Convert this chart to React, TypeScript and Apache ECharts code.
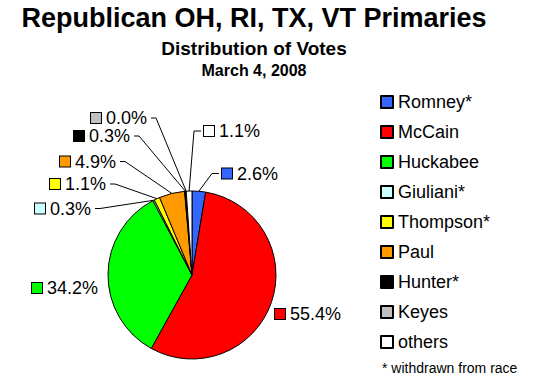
import React, { useEffect, useRef } from "react";
import * as echarts from "echarts";

const categories = ["Romney*", "McCain", "Huckabee", "Giuliani*", "Thompson*", "Paul", "Hunter*", "Keyes", "others"];
const shares = [2.6, 55.4, 34.2, 0.3, 1.1, 4.9, 0.3, 0.0, 1.1];
const colors = ["#3366FF", "#FF0000", "#00FF00", "#CCFFFF", "#FFFF00", "#FF9900", "#000000", "#C0C0C0", "#FFFFFF"];
const titleText = "Republican OH, RI, TX, VT Primaries";
const subtitleText = "Distribution of Votes";
const dateText = "March 4, 2008";
const footnoteText = "* withdrawn from race";

// label layout (positions only)
const labelX = [222, 275, 32, 35, 50, 60, 74, 91, 204];
const labelY = [173.5, 314, 288, 208.5, 184, 161.5, 136, 118, 131];
const withLine = [true, false, false, true, true, true, true, true, true];

const FONT = "'Liberation Sans', Arial, sans-serif";

export default function App() {
  const ref = useRef<HTMLDivElement>(null);
  useEffect(() => {
    document.body.style.margin = "0";
    const chart = echarts.init(ref.current!, null, { renderer: "svg" });
    const cx = 192;
    const data = categories.map((name, i) => ({
      name,
      value: shares[i],
      itemStyle: { color: colors[i] },
      labelLine: { show: withLine[i] },
      label: {
        rich: {
          sq: { width: 10, height: 10, backgroundColor: colors[i], borderColor: "#000", borderWidth: 1 },
          t: { fontSize: 18, fontFamily: FONT, color: "#000", padding: [0, 0, 0, 5] },
        },
      },
    }));
    chart.setOption({
      animation: false,
      backgroundColor: "#fff",
      textStyle: { fontFamily: FONT },
      graphic: [
        { type: "text", x: 254, y: 18, style: { text: titleText, font: `bold 27px ${FONT}`, fill: "#000", align: "center", verticalAlign: "middle" } },
        { type: "text", x: 254, y: 48, style: { text: subtitleText, font: `bold 19px ${FONT}`, fill: "#000", align: "center", verticalAlign: "middle" } },
        { type: "text", x: 254, y: 70, style: { text: dateText, font: `bold 16px ${FONT}`, fill: "#000", align: "center", verticalAlign: "middle" } },
        { type: "text", x: 382, y: 368, style: { text: footnoteText, font: `14px ${FONT}`, fill: "#000", align: "left", verticalAlign: "middle" } },
      ],
      legend: {
        orient: "vertical",
        left: 375,
        top: 88,
        itemWidth: 12,
        itemHeight: 12,
        itemGap: 12,
        icon: "rect",
        data: categories,
        textStyle: { fontSize: 18, lineHeight: 18, fontFamily: FONT, color: "#000" },
        selectedMode: false,
      },
      series: [
        {
          type: "pie",
          center: [cx, 275],
          radius: 84,
          startAngle: 90,
          clockwise: true,
          data,
          itemStyle: { borderColor: "#000", borderWidth: 1 },
          emphasis: { disabled: true },
          label: {
            show: true,
            position: "outside",
            formatter: (p: any) => `{sq|}{t|${Number(p.value).toFixed(1)}%}`,
          },
          labelLine: { show: true, length: 10, length2: 10, lineStyle: { color: "#000", width: 1 } },
          labelLayout: (p: any) => {
            const i = p.dataIndex;
            const x = labelX[i];
            const y = labelY[i];
            const w = p.labelRect.width;
            const res: any = { x, y, align: "left", verticalAlign: "middle" };
            const pts = p.labelLinePoints;
            if (withLine[i] && pts && pts.length) {
              const edge = pts[0];
              const right = x > cx;
              const ax = right ? x - 3 : x + w + 3;
              const bx = right ? ax - 7 : ax + 5;
              res.labelLinePoints = [edge, [bx, y], [ax, y]];
            }
            return res;
          },
        },
      ],
    });
    return () => chart.dispose();
  }, []);
  return <div ref={ref} style={{ position: "fixed", left: 0, top: 0, width: 535, height: 392 }} />;
}
